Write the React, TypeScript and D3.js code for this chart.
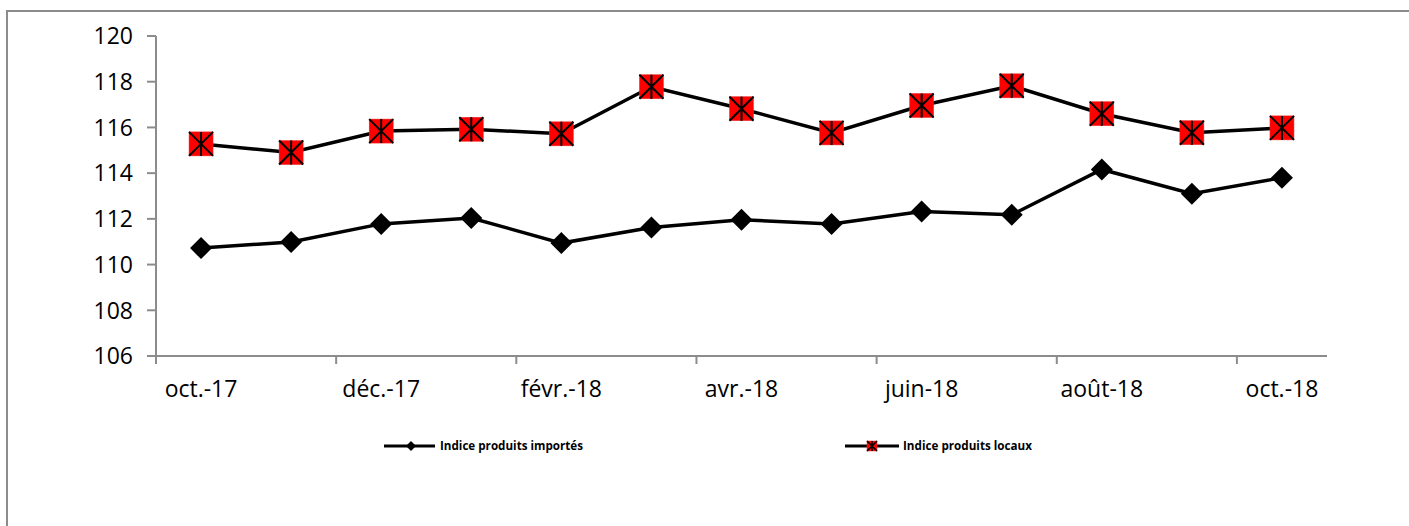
import React from 'react';
import * as d3 from 'd3';

const months = ['oct.-17', 'nov.-17', 'déc.-17', 'janv.-18', 'févr.-18', 'mars-18', 'avr.-18', 'mai-18', 'juin-18', 'juil.-18', 'août-18', 'sept.-18', 'oct.-18'];
const importes = [110.72, 110.99, 111.78, 112.04, 110.94, 111.62, 111.96, 111.78, 112.32, 112.18, 114.16, 113.1, 113.8];
const locaux = [115.28, 114.9, 115.84, 115.92, 115.72, 117.78, 116.82, 115.76, 116.96, 117.82, 116.6, 115.77, 115.98];
const yTicks = [106, 108, 110, 112, 114, 116, 118, 120];

const W = 1409;
const H = 526;
const axisColor = '#8c8c8c';
const font = '"Open Sans", sans-serif';

const Square = ({ cx, cy, s }: { cx: number; cy: number; s: number }) => {
  const h = s / 2;
  return (
    <g>
      <rect x={cx - h} y={cy - h} width={s} height={s} fill="#ff0000" stroke="#e03030" strokeWidth={0.5} />
      <path
        d={`M${cx - h},${cy - h}L${cx + h},${cy + h}M${cx + h},${cy - h}L${cx - h},${cy + h}M${cx},${cy - h}L${cx},${cy + h}`}
        stroke="#000"
        strokeWidth={s > 12 ? 2 : 1.5}
      />
    </g>
  );
};

const Diamond = ({ cx, cy, r }: { cx: number; cy: number; r: number }) => (
  <path d={`M${cx},${cy - r}L${cx + r},${cy}L${cx},${cy + r}L${cx - r},${cy}Z`} fill="#000" />
);

export default function App() {
  const x = d3.scaleBand<string>().domain(months).range([156, 1327]);
  const y = d3.scaleLinear().domain([106, 120]).range([356, 36]);
  const cx = (m: string) => (x(m) as number) + x.bandwidth() / 2;

  const line = d3
    .line<number>()
    .x((_, i) => cx(months[i]))
    .y((d) => y(d));

  return (
    <svg width={W} height={H} style={{ position: 'absolute', left: 0, top: 0, background: '#fff' }}>
      <rect x={7} y={11} width={W + 20} height={H + 20} fill="#fff" stroke={axisColor} strokeWidth={2} />

      {/* y axis */}
      <line x1={156} x2={156} y1={36} y2={364} stroke={axisColor} strokeWidth={2} />
      {yTicks.map((t) => (
        <g key={t}>
          <line x1={147} x2={156} y1={y(t)} y2={y(t)} stroke={axisColor} strokeWidth={2} />
          <text x={133} y={y(t)} dy="0.36em" textAnchor="end" fontFamily={font} fontSize={23} fill="#000">
            {t}
          </text>
        </g>
      ))}

      {/* x axis */}
      <line x1={147} x2={1327} y1={356} y2={356} stroke={axisColor} strokeWidth={2} />
      {months.map((m, i) =>
        i % 2 === 0 ? (
          <g key={m}>
            {i > 0 && <line x1={x(m)} x2={x(m)} y1={356} y2={364} stroke={axisColor} strokeWidth={2} />}
            <text x={cx(m)} y={389} dy="0.36em" textAnchor="middle" fontFamily={font} fontSize={23} fill="#000">
              {m}
            </text>
          </g>
        ) : null
      )}

      {/* series */}
      <path d={line(importes) as string} fill="none" stroke="#000" strokeWidth={3.5} />
      <path d={line(locaux) as string} fill="none" stroke="#000" strokeWidth={3.5} />
      {importes.map((v, i) => (
        <Diamond key={'d' + i} cx={cx(months[i])} cy={y(v)} r={11} />
      ))}
      {locaux.map((v, i) => (
        <Square key={'s' + i} cx={cx(months[i])} cy={y(v)} s={24} />
      ))}

      {/* legend */}
      <line x1={384} x2={435} y1={446} y2={446} stroke="#000" strokeWidth={3} />
      <Diamond cx={411} cy={446} r={5} />
      <text x={440} y={446} dy="0.36em" fontFamily={font} fontWeight="bold" fontSize={11.5} textLength={143} lengthAdjust="spacingAndGlyphs">
        Indice produits importés
      </text>
      <line x1={845} x2={899} y1={446} y2={446} stroke="#000" strokeWidth={3} />
      <Square cx={872} cy={446} s={10} />
      <text x={903} y={446} dy="0.36em" fontFamily={font} fontWeight="bold" fontSize={11.5} textLength={129} lengthAdjust="spacingAndGlyphs">
        Indice produits locaux
      </text>
    </svg>
  );
}
